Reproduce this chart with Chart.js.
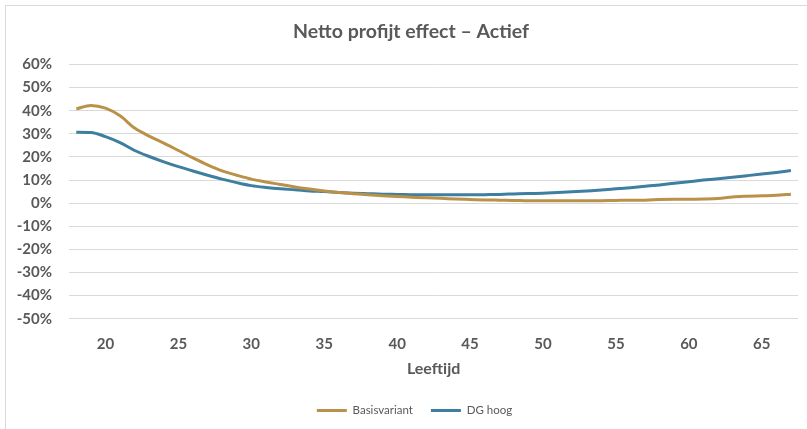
<!DOCTYPE html>
<html>
<head>
<meta charset="utf-8">
<script src="https://cdn.jsdelivr.net/npm/chart.js@4"></script>
<style>
  html, body { margin: 0; padding: 0; background: #fff; }
  #wrap { width: 807px; height: 429px; }
</style>
</head>
<body>
<div id="wrap"><canvas id="profitChart" width="807" height="429"></canvas></div>
<script>
// ages on the x axis
const ages = [];
for (let a = 18; a <= 67; a++) ages.push(a);

// values in %
const basisvariant = [
  40.8, 42.3, 41.1, 37.8, 32.5, 29.0, 26.0, 22.8, 19.6, 16.6,
  14.0, 12.1, 10.4, 9.2, 8.1, 7.0, 6.1, 5.3, 4.6, 4.1,
  3.6, 3.2, 2.9, 2.6, 2.3, 2.1, 1.8, 1.6, 1.4, 1.3,
  1.2, 1.0, 1.1, 1.1, 1.0, 1.0, 1.1, 1.2, 1.3, 1.3,
  1.6, 1.7, 1.7, 1.8, 2.0, 2.7, 3.0, 3.2, 3.4, 3.9
];
const dgHoog = [
  30.7, 30.6, 28.8, 26.2, 22.8, 20.2, 17.9, 15.8, 13.9, 12.1,
  10.4, 8.9, 7.6, 6.8, 6.2, 5.8, 5.3, 5.0, 4.6, 4.3,
  4.1, 3.9, 3.8, 3.7, 3.6, 3.6, 3.6, 3.6, 3.7, 3.8,
  4.0, 4.2, 4.3, 4.6, 4.9, 5.3, 5.7, 6.2, 6.7, 7.3,
  7.9, 8.6, 9.3, 10.0, 10.6, 11.2, 11.9, 12.6, 13.3, 14.1
];

// y axis range / steps in %
const yMin = -50;
const yMax = 60;
const yStep = 10;

const chartTitle = 'Netto profijt effect \u2013 Actief';

const gold = 'rgb(185, 145, 72)';
const blue = 'rgb(62, 126, 161)';
const textGrey = '#595959';

// light frame round the chart + title centred on the frame (not the canvas)
const framePlugin = {
  id: 'frame',
  afterLayout(chart) {
    // legend sits a bit right of the canvas centre in the original
    chart.legend.left += 15;
    chart.legend.right += 15;
  },
  beforeDraw(chart) {
    const c = chart.ctx;
    c.save();
    c.fillStyle = '#fff';
    c.fillRect(0, 0, chart.width, chart.height);
    c.strokeStyle = '#d9d9d9';
    c.lineWidth = 1;
    c.beginPath();
    c.moveTo(5.5, chart.height + 2);
    c.lineTo(5.5, 5.5);
    c.lineTo(chart.width + 2, 5.5);
    c.stroke();

    c.fillStyle = textGrey;
    c.font = 'bold 19.5px Lato';
    c.textAlign = 'center';
    c.textBaseline = 'middle';
    c.fillText(chartTitle, 411, 32);
    c.restore();
  }
};

const ctx = document.getElementById('profitChart').getContext('2d');
new Chart(ctx, {
    type: 'line',
    data: {
        labels: ages,
        datasets: [{
            label: 'Basisvariant',
            data: basisvariant,
            borderColor: gold,
            backgroundColor: gold,
            borderWidth: 3,
            pointRadius: 0,
            pointStyle: 'line',
            cubicInterpolationMode: 'monotone'
        }, {
            label: 'DG hoog',
            data: dgHoog,
            borderColor: blue,
            backgroundColor: blue,
            borderWidth: 3,
            pointRadius: 0,
            pointStyle: 'line',
            cubicInterpolationMode: 'monotone'
        }]
    },
    options: {
        responsive: false,
        animation: false,
        layout: { padding: { left: 0, right: 8, top: 64.5, bottom: 2.75 } },
        plugins: {
            title: { display: false },
            legend: {
                position: 'bottom',
                labels: {
                    color: textGrey,
                    font: { family: 'Lato', size: 11.5 },
                    usePointStyle: true,
                    pointStyleWidth: 30,
                    padding: 18
                }
            },
            tooltip: { enabled: false }
        },
        scales: {
            x: {
                offset: true,
                afterFit: function (scale) { scale.height = 68; },
                grid: { display: false, drawTicks: false },
                border: { display: false },
                ticks: {
                    autoSkip: false,
                    maxRotation: 0,
                    padding: 16,
                    color: textGrey,
                    font: { family: 'Lato', size: 15, weight: 'bold' },
                    callback: function (val, i) {
                        return ages[i] % 5 === 0 ? ages[i] : '';
                    }
                },
                title: {
                    display: true,
                    text: 'Leeftijd',
                    color: textGrey,
                    font: { family: 'Lato', size: 16, weight: 'bold' },
                    padding: { top: 0, bottom: 8 }
                }
            },
            y: {
                min: yMin,
                max: yMax,
                afterFit: function (scale) { scale.width = 69; },
                grid: { color: '#d9d9d9', lineWidth: 1, drawTicks: false },
                border: { display: false },
                ticks: {
                    stepSize: yStep,
                    padding: 17,
                    color: textGrey,
                    font: { family: 'Lato', size: 15, weight: 'bold' },
                    callback: function (v) { return v + '%'; }
                }
            }
        }
    },
    plugins: [framePlugin]
});
</script>
</body>
</html>
